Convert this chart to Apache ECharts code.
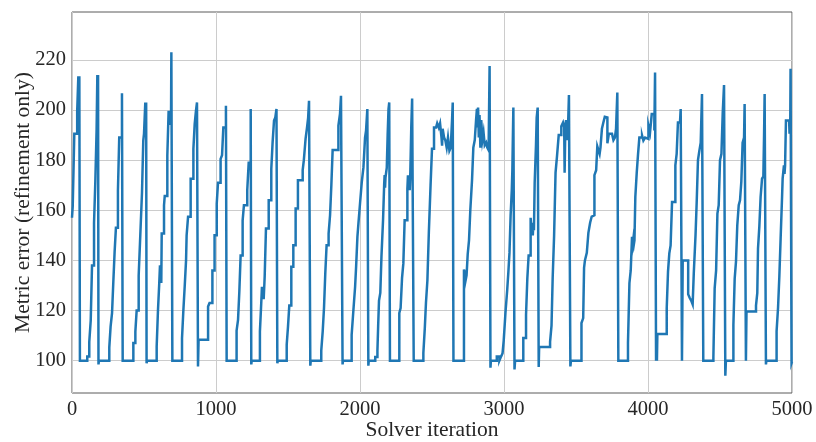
<!DOCTYPE html>
<html>
<head>
<meta charset="utf-8">
<script src="https://cdn.jsdelivr.net/npm/echarts@6/dist/echarts.min.js"></script>
<style>
  html, body { margin: 0; padding: 0; background: #ffffff; }
  #chart { width: 816px; height: 442px; }
</style>
</head>
<body>
<div id="chart"></div>
<script>
// Metric error per solver iteration, stored as [iteration, error] change points
// (the value holds until the next point), split into 1000-iteration blocks.
const run0to1k = [
  [0,157],[5,161.5],[16,190.5],[36,199.5],[44,213.5],[49,200],[51,213.5],[55,100],
  [106,101.7],[120,107.5],[130,116],[139,138],[153,155],[162,171.5],[171,192.5],[176,214],[179,190],[181,214],[184,98.5],[187,100],
  [259,105.3],[268,113.6],[278,119],[287,131.5],[296,143.5],[305,153],[319,168],[328,189],[347,206.7],[352,100],
  [426,107],[440,111.6],[449,120],[463,134],[472,146.8],[477,154],[486,167],[495,187.8],[500,190.5],[509,203],[513,191],[515,203],[518,99],[521,100],
  [588,105.7],[597,120],[606,131],[611,138],[614,131],[617,138],[620,131],[623,150.7],[639,162],[644,165.7],[662,181.9],[671,199.7],[676,194],[680,199.7],[684,194],[688,200],[690,223],[697,100],
  [764,109],[773,119.6],[783,130],[792,140],[796,150],[806,157.4],[824,172.6],[843,184.5],[852,194.4],[861,199.7],[868,203],[875,97.7],[879,108.3],
  [945,121.6],[955,123],[975,136],[990,150]
];
const run1kto2k = [
  [1005,162.6],[1014,171],[1032,180.5],[1042,182],[1051,193],[1069,201.7],[1074,100],
  [1143,112],[1153,116.3],[1162,127.5],[1171,142],[1185,156],[1194,162],[1217,168],[1227,179],[1241,200.4],[1245,98.5],[1248,100],
  [1305,111.7],[1315,124],[1319,129.5],[1323,125],[1327,129.5],[1331,124.5],[1335,129.5],[1338,133.5],[1347,152.7],[1366,164],[1384,176.6],[1393,187],[1403,195.8],[1412,197],[1420,200.4],[1426,99],[1429,100],
  [1491,106.4],[1500,113.6],[1509,122],[1523,137.5],[1537,146],[1553,160.7],[1569,172],[1602,176],[1610,180],[1622,188.5],[1632,193],[1640,197],[1646,203.7],[1655,98],[1658,100],
  [1731,104],[1741,111.7],[1750,121],[1759,135],[1768,146],[1782,150.7],[1792,158],[1801,170],[1810,184],[1850,193.8],[1861,198.4],[1868,205.7],[1879,98.5],[1882,100],
  [1942,110.3],[1954,120],[1966,129.5],[1973,137.5],[1982,149.4],[1989,154.7],[2000,162.6]
];
const run2kto3k = [
  [2012,171],[2024,177.2],[2035,189],[2042,191.8],[2051,200.4],[2058,98],[2061,100],
  [2106,101.5],[2121,104],[2126,113.6],[2132,124],[2141,127],[2149,141.5],[2160,156],[2168,170.6],[2171,174],[2174,169],[2177,173],[2186,177],[2192,190],[2198,200.4],[2203,203],[2208,100],
  [2273,119],[2282,121],[2292,133],[2301,138.8],[2310,156],[2329,168.6],[2333,174],[2337,168],[2341,174],[2345,168],[2349,174],[2352,181.9],[2356,193],[2362,204.6],[2373,100],
  [2440,103],[2450,113],[2458,123],[2468,132],[2478,151],[2490,170],[2500,184.5],[2514,193],[2528,192.5],[2536,194.7],[2547,193],[2556,194.7],[2566,189],[2570,185.8],[2574,192.5],[2584,189],[2593,187.8],[2602,185],[2611,189],[2621,183.8],[2630,185],[2639,195.7],[2644,203],[2649,100],
  [2722,136.4],[2727,132.2],[2731,136],[2735,132.5],[2740,134],[2748,142.5],[2757,148],[2766,160],[2778,172],[2787,185],[2797,188],[2806,196],[2812,200.5],[2816,193],[2820,201],[2825,189],[2830,198],[2836,185],[2842,196],[2850,188],[2858,191],[2866,186],[2876,187],[2884,185],[2893,184],[2900,217.6],[2906,97.2],[2909,100],
  [2950,101.7],[2968,100],[2980,101.7],[2990,103],[2998,108]
];
const run3kto4k = [
  [3010,119],[3022,128],[3030,135],[3038,143],[3046,158],[3054,168],[3058,176],[3061,187],[3065,201],[3073,96.5],[3077,100],
  [3134,109],[3153,118.3],[3162,132.8],[3171,142],[3185,157],[3192,150],[3196,155],[3200,150],[3204,155],[3208,152],[3213,171],[3222,185.8],[3227,197],[3234,201],[3241,97.5],[3244,105.5],
  [3320,107.5],[3330,114],[3338,133],[3348,150],[3358,175],[3368,181.5],[3380,190],[3398,193.5],[3410,195],[3418,193],[3421,175],[3426,193.5],[3431,196],[3440,188],[3446,196],[3451,206],[3461,97.7],[3465,100],
  [3538,115],[3550,117],[3556,137],[3562,140],[3575,143],[3586,151],[3598,155],[3609,157.5],[3622,158],[3628,174],[3640,176],[3648,185.5],[3660,186],[3664,182.5],[3670,185],[3680,192.5],[3690,195],[3700,197.3],[3712,197],[3718,186.7],[3728,190.5],[3750,190.5],[3760,188],[3770,189],[3778,192.5],[3787,207],[3794,100],
  [3861,107],[3871,130.9],[3880,136],[3889,149.4],[3894,146.5],[3898,148.5],[3902,146.5],[3906,148],[3912,165.3],[3922,175.2],[3931,182.5],[3940,189],[3959,189.8],[3968,187.8],[3980,189],[3991,188.5]
];
const run4kto5k = [
  [4003,193.8],[4014,191],[4026,198.4],[4036,198.4],[4044,191.8],[4049,215],[4056,100],[4059,110.6],[4062,100],[4065,110.6],
  [4130,121],[4139,135.5],[4148,142.8],[4157,146],[4167,163.3],[4190,177.9],[4199,182.5],[4208,195],[4222,195],[4227,200.4],[4236,100],
  [4241,140],[4279,126.5],[4290,125],[4300,124],[4310,122.5],[4318,135],[4330,150],[4338,163],[4347,180],[4356,183.5],[4366,187],[4375,206.4],[4384,100],
  [4454,101.5],[4463,128.9],[4473,136],[4482,158.7],[4491,162],[4500,180],[4510,182.5],[4519,199],[4528,210],[4537,94],[4541,100],
  [4593,114.3],[4602,132.8],[4611,139.5],[4620,154],[4630,162],[4639,164],[4648,171.3],[4657,187],[4667,189],[4671,202.4],[4680,100],[4684,119.6],
  [4750,122],[4759,127],[4764,144.8],[4773,153.4],[4782,165.3],[4792,172.6],[4801,173.5],[4806,190],[4810,206.4],[4819,98.5],[4822,100],
  [4893,111.7],[4903,121],[4912,133.5],[4921,148.7],[4931,165.3],[4935,172.6],[4944,177.9],[4948,174.5],[4952,177.9],[4958,195.8],[4980,195.8],[4983,190.5],[4988,195.8],[4990,216.5],[4997,99],[5000,99.5]
];

const xTicks = [0, 1000, 2000, 3000, 4000, 5000];
const yTicks = [100, 120, 140, 160, 180, 200, 220];
const xTitle = 'Solver iteration';
const yTitle = 'Metric error (refinement only)';

const errorTrace = [].concat(run0to1k, run1kto2k, run2kto3k, run3kto4k, run4kto5k);

const serif = "'Liberation Serif', 'DejaVu Serif', serif";
const ink = '#262626';
const gridColor = '#cccccc';

const chart = echarts.init(document.getElementById('chart'), null, { renderer: 'canvas' });
chart.setOption({
  backgroundColor: '#ffffff',
  animation: false,
  grid: {
    left: 72, right: 24, top: 12, bottom: 49,
    containLabel: false,
    outerBoundsMode: 'none',
    show: true, borderColor: '#5a5a5a', borderWidth: 1,
    backgroundColor: 'transparent'
  },
  xAxis: {
    type: 'value',
    min: xTicks[0], max: xTicks[xTicks.length - 1], interval: 1000,
    name: xTitle, nameLocation: 'middle', nameGap: 26, nameMoveOverlap: false,
    nameTextStyle: { fontFamily: serif, fontSize: 21.5, color: ink },
    axisLine: { show: false },
    axisTick: { show: false },
    axisLabel: { fontFamily: serif, fontSize: 20.5, color: ink, margin: 6, formatter: v => String(v) },
    splitLine: { show: true, lineStyle: { color: gridColor, width: 1 } }
  },
  yAxis: {
    type: 'value',
    min: 87.1, max: 239.1,
    name: yTitle, nameLocation: 'middle', nameGap: 38, nameRotate: 90, nameMoveOverlap: false,
    nameTextStyle: { fontFamily: serif, fontSize: 21.5, color: ink },
    axisLine: { show: false },
    axisTick: { show: false, customValues: yTicks },
    axisLabel: { fontFamily: serif, fontSize: 20.5, color: ink, margin: 6, customValues: yTicks, formatter: v => String(v) },
    splitLine: { show: true, lineStyle: { color: gridColor, width: 1 } }
  },
  series: [{
    type: 'line',
    step: 'end',
    data: errorTrace,
    showSymbol: false,
    symbol: 'none',
    sampling: null,
    lineStyle: { color: '#1f77b4', width: 2.5, join: 'miter' },
    clip: true
  }]
});
</script>
</body>
</html>
